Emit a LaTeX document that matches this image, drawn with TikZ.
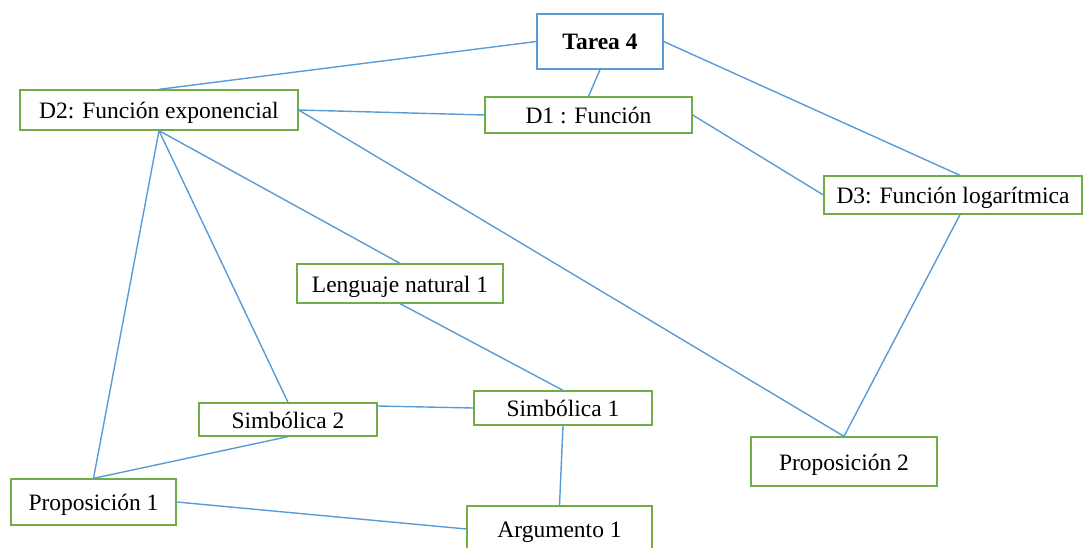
\documentclass[tikz,border=0pt]{standalone}
\usepackage{fontspec}
\setmainfont{Liberation Serif}
\definecolor{linkblue}{RGB}{91,155,213}
\definecolor{boxgreen}{RGB}{112,173,71}
\begin{document}
\begin{tikzpicture}[x=1pt,y=-1pt,
  box/.style={draw=boxgreen,line width=1.3pt,fill=white,inner sep=0pt,
    font=\fontsize{23.5}{28}\selectfont,text=black,
    text height=22pt,text depth=5pt},
  topbox/.style={box,draw=linkblue,font=\fontsize{23.5}{28}\selectfont\bfseries},
  link/.style={draw=linkblue,line width=1.4pt}]
\useasboundingbox (0,0) rectangle (1084,548);

% concept boxes
\node[topbox,minimum width=126pt,minimum height=55pt] (tarea) at (600,41.5) {Tarea 4};
\node[box,minimum width=278pt,minimum height=40pt] (d2) at (159,110) {D2: Función exponencial};
\node[box,minimum width=207pt,minimum height=36pt] (d1) at (588.5,115) {D1 : Función};
\node[box,minimum width=258pt,minimum height=38pt] (d3) at (953,195) {D3: Función logarítmica};
\node[box,minimum width=206pt,minimum height=39pt] (len) at (400,283.5) {Lenguaje natural 1};
\node[box,minimum width=178pt,minimum height=33pt] (s2) at (288,419.5) {Simbólica 2};
\node[box,minimum width=178pt,minimum height=34pt] (s1) at (563,408) {Simbólica 1};
\node[box,minimum width=186pt,minimum height=49pt] (p2) at (844,461.5) {Proposición 2};
\node[box,minimum width=165pt,minimum height=46pt] (p1) at (93.5,502) {Proposición 1};
\node[box,minimum width=185pt,minimum height=46pt] (arg) at (559.5,529) {Argumento 1};

% connectors
\draw[link] (tarea.west) -- (d2.north);
\draw[link] (tarea.south) -- (d1.north);
\draw[link] (tarea.east) -- ([xshift=7pt]d3.north);
\draw[link] (d2.east) -- (d1.west);
\draw[link] (d1.east) -- (d3.west);
\draw[link] (d2.east) -- (p2.north);
\draw[link] ([xshift=7pt]d3.south) -- (p2.north);
\draw[link] (d2.south) -- (len.north);
\draw[link] (d2.south) -- (s2.north);
\draw[link] (d2.south) -- (p1.north);
\draw[link] (len.south) -- (s1.north);
\draw[link] ([yshift=13.5pt]s2.east) -- (s1.west);
\draw[link] (s2.south) -- (p1.north);
\draw[link] (s1.south) -- (arg.north);
\draw[link] (p1.east) -- (arg.west);
\end{tikzpicture}
\end{document}
